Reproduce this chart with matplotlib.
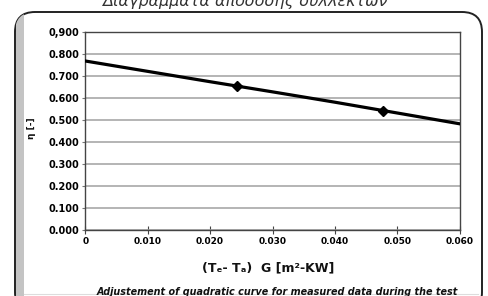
import matplotlib
matplotlib.use("Agg")
import matplotlib.pyplot as plt
from matplotlib.patches import FancyBboxPatch, Rectangle

# Fitted quadratic curve
curve_x = [0.000, 0.010, 0.020, 0.030, 0.040, 0.050, 0.060]
curve_y = [0.767, 0.720, 0.673, 0.627, 0.580, 0.531, 0.482]

# Measured points
pts_x = [0.0243, 0.0477]
pts_y = [0.654, 0.541]

x_ticks = [0.000, 0.010, 0.020, 0.030, 0.040, 0.050, 0.060]
x_labels = ["0", "0.010", "0.020", "0.030", "0.040", "0.050", "0.060"]
y_ticks = [0.0, 0.1, 0.2, 0.3, 0.4, 0.5, 0.6, 0.7, 0.8, 0.9]
y_labels = ["0.000", "0.100", "0.200", "0.300", "0.400", "0.500",
            "0.600", "0.700", "0.800", "0,900"]

W, H = 488, 296
fig = plt.figure(figsize=(W / 100, H / 100), dpi=100)
fig.patch.set_facecolor("white")

# Background axes in pixel units for the rounded frame
bg = fig.add_axes([0, 0, 1, 1])
bg.set_xlim(0, W)
bg.set_ylim(H, 0)
bg.axis("off")

frame = FancyBboxPatch((15, 12), 467, 300, boxstyle="round,pad=0,rounding_size=20",
                       facecolor="white", edgecolor="#222222", linewidth=1.4)
bg.add_patch(frame)
strip = Rectangle((16, 0), 8, 320, facecolor="#c4c4c4", edgecolor="none")
bg.add_patch(strip)
strip.set_clip_path(frame)
bg.plot([24, 478], [293.5, 293.5], color="#dddddd", lw=0.8)

bg.text(245, 6, "Διαγράμματα απόδοσης συλλεκτών", ha="center", va="baseline",
        fontsize=11.5, style="italic", color="#333333")
bg.text(277, 295, "Adjustement of quadratic curve for measured data during the test",
        ha="center", va="baseline", fontsize=6.9, style="italic",
        fontweight="bold", color="#111111")
bg.text(268, 268, "(Tₑ- Tₐ)  G [m²-KW]", ha="center", va="center",
        fontsize=9, fontweight="bold", color="#111111")
bg.text(31, 128, "η [-]", ha="center", va="center", rotation=90,
        fontsize=6.5, fontweight="bold", color="#111111")

# Main chart axes
ax = fig.add_axes([85.3 / W, 1 - 230 / H, 374.4 / W, 198.3 / H])
ax.set_xlim(0, 0.060)
ax.set_ylim(0, 0.9)

ax.grid(axis="y", color="#a0a0a0", linewidth=1.1)
ax.set_axisbelow(True)

ax.plot(curve_x, curve_y, color="black", linewidth=2.3, zorder=3)
ax.plot(pts_x, pts_y, linestyle="none", marker="D", markersize=5.5,
        color="black", zorder=4)

ax.set_xticks(x_ticks)
ax.set_xticklabels(x_labels)
ax.set_yticks(y_ticks)
ax.set_yticklabels(y_labels)
ax.tick_params(axis="x", direction="inout", length=6, width=0.8,
               color="#444444", pad=2, labelsize=6.5)
ax.tick_params(axis="y", direction="out", length=2, width=0.8,
               color="#777777", pad=2.5, labelsize=7)
for lab in ax.get_xticklabels() + ax.get_yticklabels():
    lab.set_fontweight("bold")
    lab.set_color("#000000")

for side in ["left", "right", "top", "bottom"]:
    ax.spines[side].set_color("#444444")
    ax.spines[side].set_linewidth(1.0)

fig.savefig("out.png", dpi=100)
